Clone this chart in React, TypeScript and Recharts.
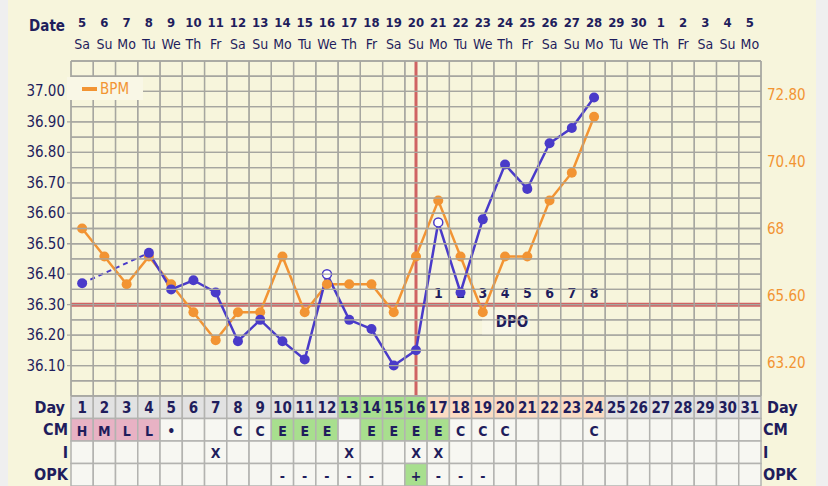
import React from 'react';
import {
  ComposedChart,
  Line,
  XAxis,
  YAxis,
  CartesianGrid,
  ReferenceLine,
  ReferenceDot,
  Legend,
} from 'recharts';

// ---------------- data ----------------
const cycleDays = [1, 2, 3, 4, 5, 6, 7, 8, 9, 10, 11, 12, 13, 14, 15, 16, 17, 18, 19, 20, 21, 22, 23, 24, 25, 26, 27, 28, 29, 30, 31];
const dateLabels = ['5', '6', '7', '8', '9', '10', '11', '12', '13', '14', '15', '16', '17', '18', '19', '20', '21', '22', '23', '24', '25', '26', '27', '28', '29', '30', '1', '2', '3', '4', '5'];
const weekdayLabels = ['Sa', 'Su', 'Mo', 'Tu', 'We', 'Th', 'Fr', 'Sa', 'Su', 'Mo', 'Tu', 'We', 'Th', 'Fr', 'Sa', 'Su', 'Mo', 'Tu', 'We', 'Th', 'Fr', 'Sa', 'Su', 'Mo', 'Tu', 'We', 'Th', 'Fr', 'Sa', 'Su', 'Mo'];
const temperatures: (number | null)[] = [36.37, null, null, 36.47, 36.35, 36.38, 36.34, 36.18, 36.25, 36.18, 36.12, 36.40, 36.25, 36.22, 36.10, 36.15, 36.57, 36.34, 36.58, 36.76, 36.68, 36.83, 36.88, 36.98, null, null, null, null, null, null, null];
const openTempDays = [12, 17];
const bpmValues: (number | null)[] = [68, 67, 66, 67, 66, 65, 64, 65, 65, 67, 65, 66, 66, 66, 65, 67, 69, 67, 65, 67, 67, 69, 70, 72, null, null, null, null, null, null, null];
const cmValues = ['H', 'M', 'L', 'L', '•', '', '', 'C', 'C', 'E', 'E', 'E', '', 'E', 'E', 'E', 'E', 'C', 'C', 'C', '', '', '', 'C', '', '', '', '', '', '', ''];
const intercourseValues = ['', '', '', '', '', '', 'X', '', '', '', '', '', 'X', '', '', 'X', 'X', '', '', '', '', '', '', '', '', '', '', '', '', '', ''];
const opkValues = ['', '', '', '', '', '', '', '', '', '-', '-', '-', '-', '-', '', '+', '-', '-', '-', '', '', '', '', '', '', '', '', '', '', '', ''];
const dayPhases = ['n', 'n', 'n', 'n', 'n', 'n', 'n', 'n', 'n', 'n', 'n', 'n', 'f', 'f', 'f', 'f', 'l', 'l', 'l', 'l', 'l', 'l', 'l', 'l', 'n', 'n', 'n', 'n', 'n', 'n', 'n'];
const dpoDays = [17, 18, 19, 20, 21, 22, 23, 24];
const dpoLabels = ['1', '2', '3', '4', '5', '6', '7', '8'];
const coverline = 36.3;
const ovulationDay = 16;
const dpoBoxDay = 20;
const tempTicks = [36.0, 36.05, 36.1, 36.15, 36.2, 36.25, 36.3, 36.35, 36.4, 36.45, 36.5, 36.55, 36.6, 36.65, 36.7, 36.75, 36.8, 36.85, 36.9, 36.95, 37.0, 37.05, 37.1];
const tempLabelTicks = [36.1, 36.2, 36.3, 36.4, 36.5, 36.6, 36.7, 36.8, 36.9, 37.0];
const bpmTicks = [63.2, 65.6, 68, 70.4, 72.8];

// ---------------- style ----------------
const W = 828;
const H = 486;
const LEFT_W = 71;
const RIGHT_W = 67;
const TOP_H = 61;
const ROW_H = 22.5;
const PLOT_LEFT = LEFT_W;
const PLOT_RIGHT = W - RIGHT_W;
const PLOT_TOP = TOP_H;
const PLOT_BOTTOM = H - 4 * ROW_H;
const X_DOMAIN: [number, number] = [0.5, 31.5];
const COL_W = (W - LEFT_W - RIGHT_W) / cycleDays.length;
const FONT = "'DejaVu Sans Condensed', 'DejaVu Sans', sans-serif";
const NAVY = '#1f1d5c';
const BLUE = '#4a3bc9';
const ORANGE = '#f29433';
const RED = '#cf6363';
const GRID = '#a6a6a0';
const CREAM = '#f7f5dc';
const CELL_BORDER = '#b3b3b0';
const CELL_WHITE = '#f7f7f2';
const CELL_GREY = '#e2e2e2';
const CELL_GREEN = '#a8df8e';
const CELL_PEACH = '#fbdcc3';
const CELL_PINK = '#e8b2c4';

// gap bridging values (dashed segment over missing readings)
const tempGap: (number | null)[] = temperatures.map(() => null);
temperatures.forEach((t, i) => {
  if (t == null) return;
  let j = i + 1;
  while (j < temperatures.length && temperatures[j] == null) j++;
  if (j > i + 1 && j < temperatures.length) {
    tempGap[i] = t;
    tempGap[j] = temperatures[j];
  }
});

const data = cycleDays.map((d, i) => ({
  day: d,
  temp: temperatures[i],
  tempGap: tempGap[i],
  bpm: bpmValues[i],
}));

const gridBoundaries = [cycleDays[0] - 0.5, ...cycleDays.map((d) => d + 0.5)];

// ---------------- ticks ----------------
const DateTick = (p: any) => {
  const i = p.payload.value - 1;
  const left = p.x - COL_W / 2;
  const right = p.x + COL_W / 2;
  return (
    <g>
      <line x1={left} x2={left} y1={PLOT_TOP} y2={PLOT_BOTTOM} stroke={GRID} strokeWidth={1.3} />
      {i === cycleDays.length - 1 && (
        <line x1={right} x2={right} y1={PLOT_TOP} y2={PLOT_BOTTOM} stroke={GRID} strokeWidth={1.3} />
      )}
      {i === 0 && (
        <text x={65} y={26} textAnchor="end" dominantBaseline="central" fill={NAVY} fontFamily={FONT} fontSize={15} fontWeight="bold">
          Date
        </text>
      )}
      <text x={p.x} y={22} textAnchor="middle" dominantBaseline="central" fill={NAVY} fontFamily={FONT} fontSize={13} fontWeight="bold">
        {dateLabels[i]}
      </text>
      <text x={p.x} y={44} textAnchor="middle" dominantBaseline="central" fill={NAVY} fontFamily={FONT} fontSize={14}>
        {weekdayLabels[i]}
      </text>
    </g>
  );
};

type RowKind = 'day' | 'cm' | 'i' | 'opk';
const rowKinds: RowKind[] = ['day', 'cm', 'i', 'opk'];
const rowAxisId: Record<RowKind, string> = { day: 'row1day', cm: 'row2cm', i: 'row3i', opk: 'row4opk' };
const rowLabel: Record<RowKind, string> = { day: 'Day', cm: 'CM', i: 'I', opk: 'OPK' };

const cellFill = (row: RowKind, i: number) => {
  if (row === 'day') {
    const ph = dayPhases[i];
    return ph === 'f' ? CELL_GREEN : ph === 'l' ? CELL_PEACH : CELL_GREY;
  }
  if (row === 'cm') {
    const v = cmValues[i];
    if (v === 'H' || v === 'M' || v === 'L') return CELL_PINK;
    if (v === 'E') return CELL_GREEN;
    return CELL_WHITE;
  }
  if (row === 'opk') return opkValues[i] === '+' ? CELL_GREEN : CELL_WHITE;
  return CELL_WHITE;
};

const cellText = (row: RowKind, i: number) => {
  if (row === 'day') return String(cycleDays[i]);
  if (row === 'cm') return cmValues[i];
  if (row === 'i') return intercourseValues[i];
  return opkValues[i];
};

const makeRowTick = (row: RowKind) => (p: any) => {
  const i = p.payload.value - 1;
  const cy = p.y + ROW_H / 2;
  return (
    <g>
      <rect x={p.x - COL_W / 2} y={p.y} width={COL_W} height={ROW_H} fill={cellFill(row, i)} stroke={CELL_BORDER} strokeWidth={1.5} />
      <text x={p.x} y={cy + 1} textAnchor="middle" dominantBaseline="central" fill={NAVY} fontFamily={FONT} fontSize={row === 'day' ? 15 : 14} fontWeight="bold">
        {cellText(row, i)}
      </text>
      {i === 0 && (
        <text x={row === 'day' ? 65 : 68} y={cy} textAnchor="end" dominantBaseline="central" fill={NAVY} fontFamily={FONT} fontSize={16} fontWeight="bold">
          {rowLabel[row]}
        </text>
      )}
      {i === cycleDays.length - 1 && (
        <text x={row === 'day' ? 767 : 763} y={cy} textAnchor="start" dominantBaseline="central" fill={NAVY} fontFamily={FONT} fontSize={16} fontWeight="bold">
          {rowLabel[row]}
        </text>
      )}
    </g>
  );
};

const TempTick = (p: any) => {
  const v: number = p.payload.value;
  const labeled = tempLabelTicks.some((t) => Math.abs(t - v) < 1e-6);
  return (
    <g>
      <line x1={labeled ? PLOT_LEFT - 4 : PLOT_LEFT} x2={PLOT_RIGHT} y1={p.y} y2={p.y} stroke={GRID} strokeWidth={1.3} />
      {labeled && (
        <text x={65} y={p.y} textAnchor="end" dominantBaseline="central" fill={NAVY} fontFamily={FONT} fontSize={15}>
          {v.toFixed(2)}
        </text>
      )}
    </g>
  );
};

const BpmTick = (p: any) => {
  const v: number = p.payload.value;
  return (
    <text x={767} y={p.y} textAnchor="start" dominantBaseline="central" fill={ORANGE} fontFamily={FONT} fontSize={15}>
      {Number.isInteger(v) ? String(v) : v.toFixed(2)}
    </text>
  );
};

const TempDot = (p: any) => {
  const { cx, cy, payload } = p;
  if (cx == null || cy == null || payload?.temp == null) return <g key={p.key} />;
  const open = openTempDays.includes(payload.day);
  return (
    <circle key={p.key} cx={cx} cy={cy} r={open ? 4.5 : 5} fill={open ? '#ffffff' : BLUE} stroke={BLUE} strokeWidth={open ? 1.5 : 0} />
  );
};

const LegendBox = () => (
  <div
    style={{
      width: 76,
      height: 23,
      background: '#f9f7e6',
      display: 'flex',
      alignItems: 'center',
      fontFamily: FONT,
      fontSize: 15,
      color: ORANGE,
    }}
  >
    <div style={{ width: 15, height: 4, background: ORANGE, marginLeft: 15, marginRight: 3 }} />
    <span>BPM</span>
  </div>
);

export default function App() {
  return (
    <div style={{ position: 'absolute', left: 0, top: 0, width: W, height: H, background: '#efefef', overflow: 'hidden' }}>
      <div style={{ position: 'absolute', left: 8, top: 0, width: 808, height: H, background: CREAM }} />
      <div style={{ position: 'absolute', left: 0, top: 0 }}>
        <ComposedChart width={W} height={H} data={data} margin={{ top: 0, right: 0, bottom: 0, left: 0 }}>
          <XAxis
            xAxisId="date"
            type="number"
            dataKey="day"
            domain={X_DOMAIN}
            ticks={cycleDays}
            interval={0}
            orientation="top"
            height={TOP_H}
            axisLine={false}
            tickLine={false}
            tickSize={0}
            tickMargin={0}
            tick={DateTick}
            allowDataOverflow
          />
          {rowKinds.map((row) => (
            <XAxis
              key={row}
              xAxisId={rowAxisId[row]}
              type="number"
              dataKey="day"
              domain={X_DOMAIN}
              ticks={cycleDays}
              interval={0}
              orientation="bottom"
              height={ROW_H}
              axisLine={false}
              tickLine={false}
              tickSize={0}
              tickMargin={0}
              tick={makeRowTick(row)}
              allowDataOverflow
            />
          ))}
          <XAxis xAxisId="zgrid" type="number" dataKey="day" domain={X_DOMAIN} ticks={gridBoundaries} interval={0} hide allowDataOverflow />
          <YAxis
            yAxisId="temp"
            orientation="left"
            type="number"
            width={LEFT_W}
            domain={[36.0, 37.1]}
            ticks={tempTicks}
            interval={0}
            axisLine={false}
            tickLine={false}
            tickSize={0}
            tick={TempTick}
            allowDataOverflow
          />
          <YAxis
            yAxisId="bpm"
            orientation="right"
            type="number"
            width={RIGHT_W}
            domain={[62, 74]}
            ticks={bpmTicks}
            interval={0}
            axisLine={false}
            tickLine={false}
            tickSize={0}
            tick={BpmTick}
            allowDataOverflow
          />
          <CartesianGrid xAxisId="zgrid" yAxisId="temp" stroke={GRID} strokeWidth={1.3} />
          <ReferenceLine xAxisId="date" yAxisId="temp" y={coverline} stroke={RED} strokeWidth={4} />
          <ReferenceLine xAxisId="date" yAxisId="temp" x={ovulationDay} stroke={RED} strokeWidth={3} />
          <Legend
            verticalAlign="middle"
            layout="horizontal"
            wrapperStyle={{ position: 'absolute', left: 67, top: 77, width: 76, height: 23 }}
            content={LegendBox}
          />
          <Line
            xAxisId="date"
            yAxisId="bpm"
            dataKey="bpm"
            name="BPM"
            stroke={ORANGE}
            strokeWidth={2.5}
            dot={{ r: 5, fill: ORANGE, stroke: ORANGE, strokeWidth: 0 }}
            activeDot={false}
            isAnimationActive={false}
          />
          <Line
            xAxisId="date"
            yAxisId="temp"
            dataKey="tempGap"
            stroke={BLUE}
            strokeWidth={2}
            strokeDasharray="5 4"
            dot={false}
            activeDot={false}
            connectNulls
            legendType="none"
            isAnimationActive={false}
          />
          <Line
            xAxisId="date"
            yAxisId="temp"
            dataKey="temp"
            stroke={BLUE}
            strokeWidth={2.5}
            dot={TempDot}
            activeDot={false}
            legendType="none"
            isAnimationActive={false}
          />
          {dpoDays.map((d, k) => (
            <ReferenceDot
              key={`dpo-${d}`}
              xAxisId="date"
              yAxisId="temp"
              x={d}
              y={coverline}
              r={0}
              shape={(p: any) => (
                <text x={p.cx} y={p.cy - 12} textAnchor="middle" dominantBaseline="central" fill={NAVY} fontFamily={FONT} fontSize={14} fontWeight="bold">
                  {dpoLabels[k]}
                </text>
              )}
            />
          ))}
          <ReferenceDot
            xAxisId="date"
            yAxisId="temp"
            x={dpoBoxDay}
            y={coverline}
            r={0}
            shape={(p: any) => (
              <g>
                <rect x={p.cx - 23} y={p.cy + 5} width={48} height={25} fill="#f9f7e6" />
                <text x={p.cx + 7} y={p.cy + 17} textAnchor="middle" dominantBaseline="central" fill={NAVY} fontFamily={FONT} fontSize={15} fontWeight="bold">
                  DPO
                </text>
              </g>
            )}
          />
        </ComposedChart>
      </div>
    </div>
  );
}
